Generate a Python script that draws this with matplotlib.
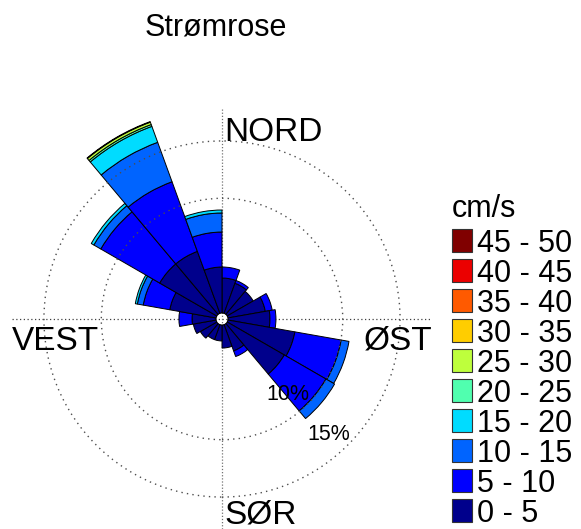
import numpy as np
import matplotlib.pyplot as plt
from matplotlib.patches import Wedge, Circle, Rectangle

plt.rcParams['font.family'] = ['Liberation Sans', 'DejaVu Sans']

# sektorer (grader fra nord, med klokka), 20 grader brede
dir_start = np.arange(0, 360, 20)
sector_w = 20

# frekvens (%) per fartsklasse, en verdi per sektor
v0_5   = [3.05, 2.79, 2.62, 3.31, 3.66, 5.93, 5.75, 2.44, 2.01, 1.39, 1.39, 1.66, 2.01, 2.09, 4.10, 5.75, 5.75, 4.01]
v5_10  = [0.96, 0.26, 0.00, 0.61, 0.52, 4.10, 4.19, 0.52, 0.00, 0.00, 0.00, 0.00, 0.00, 1.14, 2.35, 5.93, 6.46, 3.05]
v10_15 = [0.00, 0.00, 0.00, 0.00, 0.00, 0.69, 0.87, 0.00, 0.00, 0.00, 0.00, 0.00, 0.00, 0.00, 0.52, 0.70, 3.66, 1.66]
v15_20 = [0.00, 0.00, 0.00, 0.00, 0.00, 0.00, 0.00, 0.00, 0.00, 0.00, 0.00, 0.00, 0.00, 0.00, 0.18, 0.26, 1.48, 0.26]
v20_25 = [0.00, 0.00, 0.00, 0.00, 0.00, 0.00, 0.00, 0.00, 0.00, 0.00, 0.00, 0.00, 0.00, 0.00, 0.00, 0.00, 0.17, 0.00]
v25_30 = [0.00, 0.00, 0.00, 0.00, 0.00, 0.00, 0.00, 0.00, 0.00, 0.00, 0.00, 0.00, 0.00, 0.00, 0.00, 0.00, 0.22, 0.00]
v30_35 = [0.00, 0.00, 0.00, 0.00, 0.00, 0.00, 0.00, 0.00, 0.00, 0.00, 0.00, 0.00, 0.00, 0.00, 0.00, 0.00, 0.05, 0.00]
v35_40 = [0.0] * 18
v40_45 = [0.0] * 18
v45_50 = [0.0] * 18

classes = ['0 - 5', '5 - 10', '10 - 15', '15 - 20', '20 - 25',
           '25 - 30', '30 - 35', '35 - 40', '40 - 45', '45 - 50']
colors = ['#00008c', '#0000ff', '#0064ff', '#00dcff', '#50ffaf',
          '#beff3c', '#ffcd00', '#ff5a00', '#eb0000', '#800000']

rings = [10, 15]
compass = ['NORD', 'ØST', 'SØR', 'VEST']

series = np.array([v0_5, v5_10, v10_15, v15_20, v20_25,
                   v25_30, v30_35, v35_40, v40_45, v45_50])

W, H = 581, 529
cx, cy = 222, 319      # sentrum i piksler
k = 11.47              # piksler per prosent
hole = 6 / k           # hull i midten


def fx(x):
    return x / W


def fy(y):
    return 1 - y / H


fig = plt.figure(figsize=(W / 100, H / 100), dpi=100)
ax = fig.add_axes([0, 0, 1, 1])
ax.set_xlim(-cx / k, (W - cx) / k)
ax.set_ylim(-(H - cy) / k, cy / k)
ax.axis('off')

# akser
rmax = hole + series.sum(axis=0).max()
ax.plot([-rmax, rmax], [0, 0], color='0.25', lw=0.9, ls=(0, (1, 2)), zorder=0)
ax.plot([0, 0], [-rmax, rmax], color='0.45', lw=0.9, ls=(0, (1, 1.5)), zorder=0)

# stablede sektorer
for i, a in enumerate(dir_start):
    r = hole
    for j in range(len(classes)):
        v = series[j, i]
        if v <= 0:
            continue
        ax.add_patch(Wedge((0, 0), r + v, 90 - (a + sector_w), 90 - a, width=v,
                           facecolor=colors[j], edgecolor='k', lw=0.7, zorder=2))
        r += v

# sirkler oppå
for rc in rings:
    ax.add_patch(Circle((0, 0), hole + rc, fill=False, ls=(0, (1, 3)), ec='0.3',
                        lw=1.0, zorder=5))

fig.text(fx(266), fy(400), '10%', fontsize=15.5, ha='left', va='baseline')
fig.text(fx(307), fy(440), '15%', fontsize=15.5, ha='left', va='baseline')

# himmelretninger
fig.text(fx(224), fy(141), compass[0], fontsize=24, ha='left', va='baseline')
fig.text(fx(432), fy(349), compass[1], fontsize=24, ha='right', va='baseline')
fig.text(fx(224), fy(523), compass[2], fontsize=24, ha='left', va='baseline')
fig.text(fx(12), fy(350), compass[3], fontsize=24, ha='left', va='baseline')

fig.text(fx(216), fy(35), 'Strømrose', fontsize=22, ha='center', va='baseline')

# legende
fig.text(fx(452), fy(217), 'cm/s', fontsize=22, ha='left', va='baseline')
for n, j in enumerate(range(len(classes) - 1, -1, -1)):
    top = 229 + 30 * n
    fig.add_artist(Rectangle((fx(452), fy(top + 23)), 20 / W, 23 / H,
                             facecolor=colors[j], edgecolor='0.2', lw=0.8,
                             transform=fig.transFigure))
    fig.text(fx(477), fy(top + 23.5), classes[j], fontsize=22,
             ha='left', va='baseline')

fig.savefig('out.png', dpi=100)
